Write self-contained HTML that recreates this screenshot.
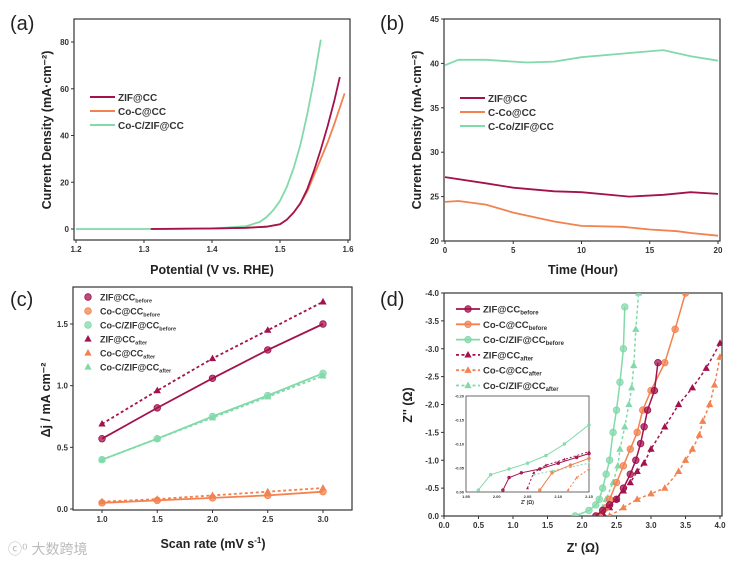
<!DOCTYPE html>
<html><head><meta charset="utf-8"><style>
html,body{margin:0;padding:0;background:#fff;}
svg{display:block;font-family:"Liberation Sans",Arial,sans-serif;}
.t{font-size:8px;font-weight:bold;fill:#333;}
.ti{font-size:12.5px;font-weight:bold;fill:#222;}
.pl{font-size:20px;fill:#222;}
.lg{font-size:10px;font-weight:bold;fill:#333;}
</style></head><body>
<svg id="fig" width="741" height="565" viewBox="0 0 741 565" xmlns="http://www.w3.org/2000/svg"></svg>
<script>
// ---- panel a data (LSV) ----
const aGreenX=[1.2,1.3,1.4,1.42,1.45,1.47,1.48,1.49,1.5,1.51,1.52,1.53,1.54,1.55,1.56];
const aGreenY=[0,0,0.3,0.6,1.2,3,5,8,12,18,26,36,49,64,81];
const aZifX=[1.31,1.4,1.45,1.48,1.5,1.51,1.52,1.53,1.54,1.55,1.56,1.57,1.58,1.588];
const aZifY=[0,0.2,0.5,1,2,4,7,11,17,25,34,44,55,65];
const aCocX=[1.31,1.4,1.45,1.48,1.5,1.51,1.52,1.53,1.54,1.55,1.56,1.57,1.58,1.595];
const aCocY=[0,0.2,0.5,1,2,4,7,11,16,23,30,37,45,58];
// ---- panel b data (stability) ----
const bGreenX=[0,1,3,6,8,10,13,16,18,20];
const bGreenY=[39.8,40.4,40.4,40.1,40.2,40.7,41.1,41.5,40.8,40.3];
const bZifX=[0,3,5,8,10,13.5,16,18,20];
const bZifY=[27.2,26.5,26,25.6,25.5,25.0,25.2,25.5,25.3];
const bCocX=[0,1,3,5,8,10,13,15,17,18,20];
const bCocY=[24.4,24.5,24.1,23.2,22.2,21.7,21.6,21.3,21.1,20.9,20.6];
// ---- panel c data (Cdl) ----
const cRates=[1.0,1.5,2.0,2.5,3.0];
const cZifBefore=[0.57,0.82,1.06,1.29,1.50];
const cZifAfter=[0.69,0.96,1.22,1.45,1.68];
const cCocBefore=[0.05,0.07,0.09,0.11,0.14];
const cCocAfter=[0.06,0.08,0.11,0.14,0.17];
const cGreenBefore=[0.40,0.57,0.75,0.92,1.10];
const cGreenAfter=[0.40,0.57,0.74,0.91,1.08];
// ---- panel d data (Nyquist) ----
const dZifBX=[2.2,2.3,2.4,2.5,2.6,2.7,2.78,2.85,2.9,2.95,3.05,3.1];
const dZifBY=[0,-0.1,-0.2,-0.3,-0.5,-0.75,-1.0,-1.3,-1.6,-1.9,-2.25,-2.75];
const dCocBX=[2.25,2.35,2.4,2.5,2.6,2.7,2.8,2.88,3.0,3.2,3.35,3.5];
const dCocBY=[0,-0.15,-0.3,-0.6,-0.9,-1.2,-1.5,-1.9,-2.25,-2.75,-3.35,-4.0];
const dGrnBX=[1.9,2.1,2.2,2.25,2.3,2.35,2.4,2.45,2.5,2.55,2.6,2.62];
const dGrnBY=[0,-0.1,-0.2,-0.3,-0.5,-0.75,-1.0,-1.5,-1.9,-2.4,-3.0,-3.75];
const dGrnAX=[2.2,2.3,2.35,2.45,2.52,2.55,2.62,2.68,2.72,2.75,2.78,2.82];
const dGrnAY=[0,-0.15,-0.3,-0.6,-0.9,-1.2,-1.6,-2.0,-2.3,-2.7,-3.35,-4.0];
const dZifAX=[2.3,2.4,2.5,2.6,2.7,2.8,2.9,3.0,3.2,3.4,3.6,3.8,4.0];
const dZifAY=[-0.05,-0.15,-0.3,-0.45,-0.6,-0.8,-0.95,-1.2,-1.6,-2.0,-2.3,-2.65,-3.1];
const dCocAX=[2.4,2.6,2.8,3.0,3.2,3.4,3.5,3.6,3.7,3.75,3.85,3.92,4.0];
const dCocAY=[0,-0.15,-0.3,-0.4,-0.5,-0.8,-1.0,-1.2,-1.45,-1.7,-2.0,-2.35,-2.85];
// inset (fractions of inset axes)
const inGreenX=[0.1,0.2,0.35,0.5,0.65,0.8,1.0];
const inGreenY=[0.02,0.18,0.24,0.3,0.38,0.5,0.7];
const inZifX=[0.3,0.35,0.45,0.6,0.75,0.9,1.0];
const inZifY=[0.02,0.15,0.2,0.24,0.3,0.36,0.4];
const inZifAX=[0.5,0.55,0.65,0.8,1.0];
const inZifAY=[0.04,0.2,0.28,0.34,0.42];
const inCocX=[0.6,0.7,0.85,1.0];
const inCocY=[0.02,0.2,0.28,0.35];
const inCocAX=[0.83,0.9,1.0];
const inCocAY=[0.02,0.15,0.24];
const inGrnAX=[0.55,0.7,0.85,1.0];
const inGrnAY=[0.18,0.22,0.26,0.3];

const MAR="#a3124c", ORA="#f2824f", GRN="#82d9aa";
const NS="http://www.w3.org/2000/svg";
const svg=document.getElementById('fig');
function mk(tag,attrs,parent){const e=document.createElementNS(NS,tag);for(const k in attrs)e.setAttribute(k,attrs[k]);(parent||svg).appendChild(e);return e;}
function lin(d0,d1,p0,p1){return v=>p0+(v-d0)*(p1-p0)/(d1-d0);}
function txt(x,y,s,cls,anchor,name){const e=mk('text',{x:x,y:y,class:cls,'text-anchor':anchor||'start'});e.textContent=s;


return e;}
function axes(p){
 const r=mk('rect',{x:p.bx0,y:p.by0,width:p.bx1-p.bx0,height:p.by1-p.by0,fill:'none',stroke:'#333','stroke-width':1.2});
 
 
 p.xt.forEach(v=>{const x=p.sx(v);
  const t=mk('line',{x1:x,x2:x,y1:p.by1,y2:p.by1+3,stroke:'#333'});
  
  
  txt(x,p.by1+12,p.xf(v),'t','middle',p.id+'-x-tick-label');});
 p.yt.forEach(v=>{const y=p.sy(v);
  const t=mk('line',{x1:p.bx0-3,x2:p.bx0,y1:y,y2:y,stroke:'#333'});
  
  
  txt(p.bx0-5,y+3,p.yf(v),'t','end',p.id+'-y-tick-label');});
}
function path(xs,ys,sx,sy,col,w,dash,name,parent){
 const d=xs.map((x,i)=>(i?'L':'M')+sx(x).toFixed(1)+','+sy(ys[i]).toFixed(1)).join(' ');
 const e=mk('path',{d:d,fill:'none',stroke:col,'stroke-width':w,'stroke-dasharray':dash||'none'},parent);
 
 
 return e;
}
function marker(type,x,y,col,s,name,parent){
 let e;
 if(type==='c'){e=mk('circle',{cx:x,cy:y,r:s,fill:col,stroke:col,'stroke-width':0.8,'fill-opacity':0.75},parent);}
 else{e=mk('polygon',{points:`${x},${y-s*1.2} ${x-s*1.1},${y+s*0.8} ${x+s*1.1},${y+s*0.8}`,fill:col},parent);}
 
 
 return e;
}
function legendLine(x,y,col,label,name,dash){
 const l=mk('line',{x1:x,x2:x+25,y1:y,y2:y,stroke:col,'stroke-width':2,'stroke-dasharray':dash||'none'});
 
 
 txt(x+28,y+4,label,'lg','start',name);
}
const f1=v=>v.toFixed(1), f0=v=>String(v);

// ===== Panel a =====
const A={id:'a',bx0:74,bx1:350,by0:19,by1:240,sx:lin(1.2,1.6,76,348),sy:lin(0,80,229,42),
 xt:[1.2,1.3,1.4,1.5,1.6],yt:[0,20,40,60,80],xf:f1,yf:f0};
axes(A);
path(aGreenX,aGreenY,A.sx,A.sy,GRN,1.8,null,'a-series-co-c-zif');
path(aCocX,aCocY,A.sx,A.sy,ORA,1.8,null,'a-series-co-c');
path(aZifX,aZifY,A.sx,A.sy,MAR,1.8,null,'a-series-zif');
legendLine(90,97,MAR,'ZIF@CC','a-legend-zif');
legendLine(90,111,ORA,'Co-C@CC','a-legend-co-c');
legendLine(90,125,GRN,'Co-C/ZIF@CC','a-legend-co-c-zif');
txt(212,274,'Potential (V vs. RHE)','ti','middle','a-x-axis-title');
{const e=txt(0,0,'Current Density (mA·cm⁻²)','ti','middle','a-y-axis-title');e.setAttribute('transform','translate(51,130) rotate(-90)');}
txt(10,30,'(a)','pl','start','a-panel-label');

// ===== Panel b =====
const B={id:'b',bx0:444,bx1:720,by0:19,by1:241,sx:lin(0,20,445,718),sy:lin(20,45,241,19),
 xt:[0,5,10,15,20],yt:[20,25,30,35,40,45],xf:f0,yf:f0};
axes(B);
path(bGreenX,bGreenY,B.sx,B.sy,GRN,1.8,null,'b-series-c-co-zif');
path(bZifX,bZifY,B.sx,B.sy,MAR,1.8,null,'b-series-zif');
path(bCocX,bCocY,B.sx,B.sy,ORA,1.8,null,'b-series-c-co');
legendLine(460,98,MAR,'ZIF@CC','b-legend-zif');
legendLine(460,112,ORA,'C-Co@CC','b-legend-c-co');
legendLine(460,126,GRN,'C-Co/ZIF@CC','b-legend-c-co-zif');
txt(583,274,'Time (Hour)','ti','middle','b-x-axis-title');
{const e=txt(0,0,'Current Density (mA·cm⁻²)','ti','middle','b-y-axis-title');e.setAttribute('transform','translate(421,130) rotate(-90)');}
txt(380,30,'(b)','pl','start','b-panel-label');

// ===== Panel c =====
const C={id:'c',bx0:73,bx1:352,by0:287,by1:510,sx:lin(1,3,102,323),sy:lin(0,1.5,509,324),
 xt:[1.0,1.5,2.0,2.5,3.0],yt:[0,0.5,1.0,1.5],xf:f1,yf:f1};
axes(C);
const cSeries=[[cZifAfter,MAR,'t','3,2.5','c-zif-after'],[cZifBefore,MAR,'c',null,'c-zif-before'],
 [cGreenAfter,GRN,'t','3,2.5','c-co-c-zif-after'],[cGreenBefore,GRN,'c',null,'c-co-c-zif-before'],
 [cCocAfter,ORA,'t','3,2.5','c-co-c-after'],[cCocBefore,ORA,'c',null,'c-co-c-before']];
cSeries.forEach(s=>{path(cRates,s[0],C.sx,C.sy,s[1],1.8,s[3],s[4]+'-fit');
 cRates.forEach((r,i)=>marker(s[2],C.sx(r),C.sy(s[0][i]),s[1],3.3,s[4]+'-point'));});
const cLeg=[['c',MAR,'ZIF@CC','before'],['c',ORA,'Co-C@CC','before'],['c',GRN,'Co-C/ZIF@CC','before'],
 ['t',MAR,'ZIF@CC','after'],['t',ORA,'Co-C@CC','after'],['t',GRN,'Co-C/ZIF@CC','after']];
cLeg.forEach((l,i)=>{const y=297+i*14;marker(l[0],88,y,l[1],3.3,'c-legend-marker');
 const e=txt(100,y+3.5,l[2],'lg','start','c-legend-entry');e.style.fontSize='9px';
 const ts=mk('tspan',{'font-size':'5.5px',dy:'2'},e);ts.textContent=l[3];
 
 });
{const e=txt(213,548,'Scan rate (mV s','ti','middle','c-x-axis-title');const s=mk('tspan',{'font-size':'8px',dy:'-5'},e);s.textContent='-1';


const s2=mk('tspan',{dy:'5'},e);s2.textContent=')';

}
{const e=txt(0,0,'Δj / mA cm⁻²','ti','middle','c-y-axis-title');e.setAttribute('transform','translate(50,400) rotate(-90)');}
txt(10,306,'(c)','pl','start','c-panel-label');
{const e=txt(8,554,'ⓒ⁰ 大数跨境','t','start','watermark');e.style.fontSize='14px';e.style.fill='#bbb';e.style.fontWeight='normal';e.style.fontFamily='"Liberation Sans","Noto Sans CJK SC",sans-serif';}

// ===== Panel d =====
const D={id:'d',bx0:444,bx1:722,by0:293,by1:516,sx:lin(0,4,444,720),sy:lin(0,-4,516,293),
 xt:[0,0.5,1,1.5,2,2.5,3,3.5,4],yt:[0,-0.5,-1,-1.5,-2,-2.5,-3,-3.5,-4],xf:f1,yf:f1};
axes(D);
const clip=mk('clipPath',{id:'dclip'});const cr=mk('rect',{x:444,y:293,width:278,height:223},clip);




const dg=mk('g',{'clip-path':'url(#dclip)'});


const dSeries=[[dCocAX,dCocAY,ORA,'t','3,2.5','d-co-c-after'],[dZifAX,dZifAY,MAR,'t','3,2.5','d-zif-after'],
 [dGrnAX,dGrnAY,GRN,'t','3,2.5','d-co-c-zif-after'],[dCocBX,dCocBY,ORA,'c',null,'d-co-c-before'],
 [dZifBX,dZifBY,MAR,'c',null,'d-zif-before'],[dGrnBX,dGrnBY,GRN,'c',null,'d-co-c-zif-before']];
dSeries.forEach(s=>{path(s[0],s[1],D.sx,D.sy,s[2],1.5,s[4],s[5]+'-line',dg);
 s[0].forEach((x,i)=>marker(s[3],D.sx(x),D.sy(s[1][i]),s[2],3.3,s[5]+'-point',dg));});
const dLeg=[['c',MAR,'ZIF@CC','before',null],['c',ORA,'Co-C@CC','before',null],['c',GRN,'Co-C/ZIF@CC','before',null],
 ['t',MAR,'ZIF@CC','after','3,2.5'],['t',ORA,'Co-C@CC','after','3,2.5'],['t',GRN,'Co-C/ZIF@CC','after','3,2.5']];
dLeg.forEach((l,i)=>{const y=309+i*15.3;
 const ln=mk('line',{x1:456,x2:480,y1:y,y2:y,stroke:l[1],'stroke-width':1.8,'stroke-dasharray':l[4]||'none'});
 
 
 marker(l[0],468,y,l[1],3.3,'d-legend-marker');
 const e=txt(483,y+3.5,l[2],'lg','start','d-legend-entry');e.style.fontSize='9.5px';
 const ts=mk('tspan',{'font-size':'6px',dy:'2'},e);ts.textContent=l[3];
 
 });
// inset
const IX0=466,IX1=589,IY0=396,IY1=492;
{const r=mk('rect',{x:IX0,y:IY0,width:IX1-IX0,height:IY1-IY0,fill:'#fff',stroke:'#444','stroke-width':0.8});

}
const isx=lin(0,1,IX0,IX1), isy=lin(0,1,IY1,IY0);
[[inGreenX,inGreenY,GRN,null,'c'],[inGrnAX,inGrnAY,GRN,'2,2','t'],[inZifX,inZifY,MAR,null,'c'],[inZifAX,inZifAY,MAR,'2,2','t'],
 [inCocX,inCocY,ORA,null,'c'],[inCocAX,inCocAY,ORA,'2,2','t']].forEach((s,k)=>{
 path(s[0],s[1],isx,isy,s[2],1,s[3],'d-inset-series');
 s[0].forEach((x,i)=>marker(s[4],isx(x),isy(s[1][i]),s[2],1.3,'d-inset-point'));});
['1.95','2.00','2.05','2.10','2.15'].forEach((s,i)=>{const e=txt(IX0+i*(IX1-IX0)/4,IY1+6,s,'t','middle','d-inset-x-tick-label');e.style.fontSize='4px';});
['0.00','-0.05','-0.10','-0.15','-0.20'].forEach((s,i)=>{const e=txt(IX0-2,IY1-i*(IY1-IY0)/4+1.5,s,'t','end','d-inset-y-tick-label');e.style.fontSize='4px';});
{const e=txt((IX0+IX1)/2,IY1+12,"Z' (Ω)",'t','middle','d-inset-x-title');e.style.fontSize='5px';}
txt(583,552,"Z' (Ω)",'ti','middle','d-x-axis-title');
{const e=txt(0,0,"Z'' (Ω)",'ti','middle','d-y-axis-title');e.setAttribute('transform','translate(412,405) rotate(-90)');}
txt(380,306,'(d)','pl','start','d-panel-label');
</script>
</body></html>
